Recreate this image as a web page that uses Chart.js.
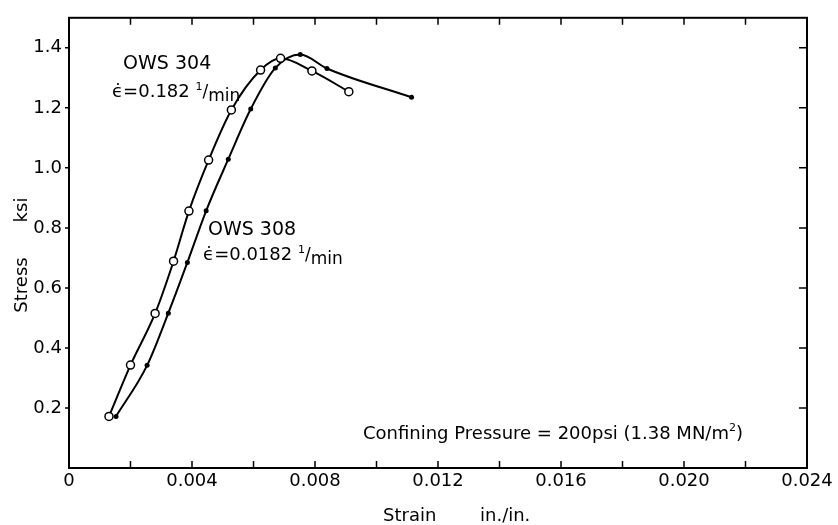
<!DOCTYPE html>
<html>
<head>
<meta charset="utf-8">
<script src="https://cdn.jsdelivr.net/npm/chart.js@4/dist/chart.umd.min.js"></script>
<style>
  html, body { margin: 0; padding: 0; background: #fff; }
  #wrap { width: 838px; height: 525px; }
</style>
</head>
<body>
<div id="wrap"><canvas id="stressChart"></canvas></div>
<script>
// OWS 304 (open circles), strain rate 0.182 1/min
const strain304 = [0.0013, 0.0020, 0.0028, 0.0034, 0.0039, 0.00454, 0.00528, 0.00623, 0.00688, 0.0079, 0.0091];
const stress304 = [0.172, 0.343, 0.515, 0.689, 0.856, 1.026, 1.193, 1.326, 1.365, 1.323, 1.254];

// OWS 308 (filled dots), strain rate 0.0182 1/min
const strain308 = [0.00153, 0.00254, 0.00323, 0.00385, 0.00446, 0.00518, 0.00591, 0.00671, 0.00752, 0.00839, 0.01114];
const stress308 = [0.172, 0.342, 0.516, 0.685, 0.857, 1.029, 1.196, 1.333, 1.378, 1.331, 1.235];

const xTickValues = [0, 0.002, 0.004, 0.006, 0.008, 0.010, 0.012, 0.014, 0.016, 0.018, 0.020, 0.022, 0.024];
const yTickValues = [0.2, 0.4, 0.6, 0.8, 1.0, 1.2, 1.4];

const FONT = '"DejaVu Sans", sans-serif';

function toPoints(xs, ys) {
    return xs.map((x, i) => ({ x: x, y: ys[i] }));
}

// Text notes placed in data coordinates (baseline-left)
const notes = [
    { x: 0.00176, y: 1.329, parts: [['OWS 304', 19, 0]] },
    { x: 0.00140, y: 1.236, parts: [['\u03F5\u0307=0.182 ', 18, 0], ['1', 11, -7], ['/', 17, 0], ['min', 17, 4]] },
    { x: 0.00452, y: 0.775, parts: [['OWS 308', 19, 0]] },
    { x: 0.00436, y: 0.692, parts: [['\u03F5\u0307=0.0182 ', 18, 0], ['1', 11, -7], ['/', 17, 0], ['min', 17, 4]] },
    { x: 0.00956, y: 0.096, parts: [['Confining Pressure = 200psi (1.38 MN/m', 18, 0], ['2', 11, -8], [')', 18, 0]] }
];

const framePlugin = {
    id: 'frame',
    afterDraw(chart) {
        const ctx = chart.ctx;
        const a = chart.chartArea;
        const xs = chart.scales.x;
        const ys = chart.scales.y;
        ctx.save();
        ctx.strokeStyle = '#000';
        ctx.lineWidth = 2;
        ctx.strokeRect(a.left, a.top, a.right - a.left, a.bottom - a.top);

        ctx.lineWidth = 1.5;
        ctx.beginPath();
        xTickValues.forEach(v => {
            const px = xs.getPixelForValue(v);
            if (v === 0 || v === 0.024) return;
            ctx.moveTo(px, a.bottom); ctx.lineTo(px, a.bottom - 7);
            ctx.moveTo(px, a.top); ctx.lineTo(px, a.top + 7);
        });
        yTickValues.forEach(v => {
            const py = ys.getPixelForValue(v);
            ctx.moveTo(a.left - 4, py); ctx.lineTo(a.left, py);
            ctx.moveTo(a.right, py); ctx.lineTo(a.right - 8, py);
        });
        ctx.stroke();

        // notes
        ctx.fillStyle = '#000';
        ctx.textBaseline = 'alphabetic';
        ctx.textAlign = 'left';
        notes.forEach(n => {
            let px = xs.getPixelForValue(n.x);
            const py = ys.getPixelForValue(n.y);
            n.parts.forEach(p => {
                ctx.font = p[1] + 'px ' + FONT;
                ctx.fillText(p[0], px, py + p[2]);
                px += ctx.measureText(p[0]).width;
            });
        });

        // axis titles
        ctx.font = '18px ' + FONT;
        ctx.fillText('Strain', 383, 521);
        ctx.fillText('in./in.', 480, 521);
        ctx.save();
        ctx.translate(27, 285);
        ctx.rotate(-Math.PI / 2);
        ctx.textAlign = 'center';
        ctx.fillText('Stress', 0, 0);
        ctx.restore();
        ctx.save();
        ctx.translate(27, 210);
        ctx.rotate(-Math.PI / 2);
        ctx.textAlign = 'center';
        ctx.fillText('ksi', 0, 0);
        ctx.restore();
        ctx.restore();
    }
};

new Chart(document.getElementById('stressChart').getContext('2d'), {
    type: 'scatter',
    data: {
        datasets: [
            {
                label: 'OWS 304',
                data: toPoints(strain304, stress304),
                showLine: true,
                cubicInterpolationMode: 'monotone',
                borderColor: '#000',
                borderWidth: 2,
                pointRadius: 4,
                pointBorderWidth: 1.5,
                pointBackgroundColor: '#fff',
                pointBorderColor: '#000'
            },
            {
                label: 'OWS 308',
                data: toPoints(strain308, stress308),
                showLine: true,
                cubicInterpolationMode: 'monotone',
                borderColor: '#000',
                borderWidth: 2,
                pointRadius: 2.5,
                pointBorderWidth: 0,
                pointBackgroundColor: '#000',
                pointBorderColor: '#000'
            }
        ]
    },
    options: {
        responsive: true,
        maintainAspectRatio: false,
        animation: false,
        layout: { padding: { top: 13, right: 31, left: 0, bottom: 0 } },
        plugins: {
            legend: { display: false },
            tooltip: { enabled: false }
        },
        scales: {
            x: {
                type: 'linear',
                min: 0,
                max: 0.024,
                afterBuildTicks: s => { s.ticks = xTickValues.map(v => ({ value: v })); },
                afterFit: s => { s.height = 57; },
                grid: { display: false, drawTicks: false },
                border: { display: false },
                ticks: {
                    autoSkip: false,
                    maxRotation: 0,
                    padding: 3,
                    color: '#000',
                    font: { family: FONT, size: 18 },
                    callback: v => {
                        const k = Math.round(v * 1000);
                        if (k === 0) return '0';
                        return k % 4 === 0 ? v.toFixed(3) : '';
                    }
                }
            },
            y: {
                type: 'linear',
                min: 0,
                max: 1.5,
                afterBuildTicks: s => { s.ticks = yTickValues.map(v => ({ value: v })); },
                afterFit: s => { s.width = 69; },
                grid: { display: false, drawTicks: false },
                border: { display: false },
                ticks: {
                    autoSkip: false,
                    padding: 7,
                    color: '#000',
                    font: { family: FONT, size: 18 },
                    callback: v => v.toFixed(1)
                }
            }
        }
    },
    plugins: [framePlugin]
});
</script>
</body>
</html>
